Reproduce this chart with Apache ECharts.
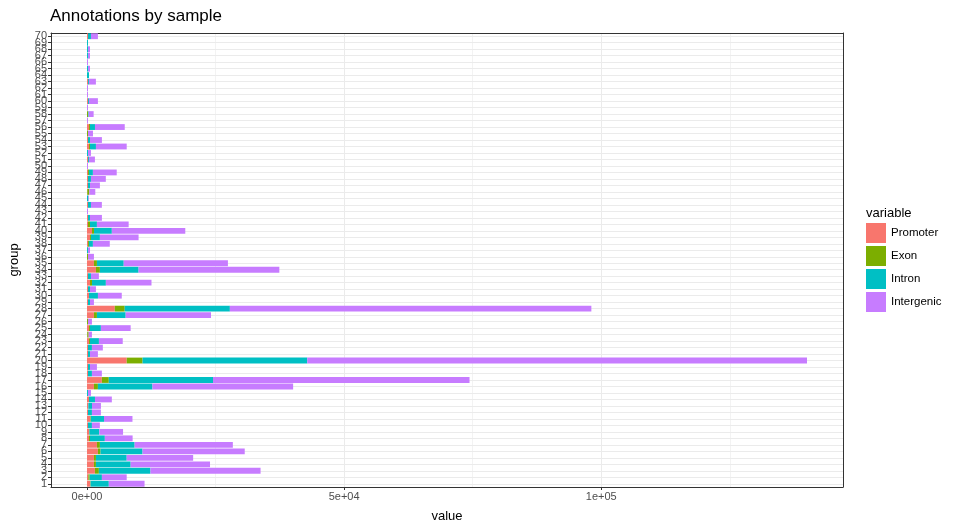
<!DOCTYPE html>
<html>
<head>
<meta charset="utf-8">
<script src="https://cdn.jsdelivr.net/npm/echarts@6/dist/echarts.min.js"></script>
<style>
  html, body { margin: 0; padding: 0; background: #fff; }
  #main { width: 960px; height: 528px; }
</style>
</head>
<body>
<div id="main"></div>
<script>
// groups 1..70, values
var groups = [];
for (var g = 1; g <= 70; g++) groups.push(String(g));

var promoter = [640, 260, 1540, 1350, 1350, 2120, 1930, 390, 390, 190,
  640, 190, 260, 390, 0, 1350, 2890, 190, 190, 7720,
  190, 190, 390, 60, 390, 0, 1350, 5400, 190, 390,
  190, 580, 190, 1740, 1350, 0, 0, 190, 580, 970,
  190, 190, 0, 190, 0, 60, 190, 190, 190, 0,
  190, 0, 390, 190, 0, 390, 0, 0, 0, 190,
  0, 0, 190, 0, 0, 0, 0, 0, 0, 190];
var exon = [60, 260, 770, 390, 390, 510, 580, 190, 60, 0,
  100, 0, 0, 0, 0, 770, 1350, 0, 0, 3090,
  0, 0, 190, 260, 190, 190, 580, 1930, 0, 0,
  0, 390, 0, 770, 580, 190, 0, 190, 190, 390,
  390, 0, 0, 0, 0, 390, 0, 0, 190, 0,
  0, 0, 190, 0, 190, 190, 0, 190, 0, 0,
  0, 0, 0, 0, 0, 0, 0, 0, 0, 0];
var intron = [3540, 2380, 10030, 6750, 5980, 8170, 6750, 2890, 1930, 770,
  2570, 770, 710, 1160, 190, 10610, 20260, 770, 390, 32020,
  390, 770, 1740, 0, 2120, 0, 5590, 20450, 390, 1740,
  390, 2700, 580, 7520, 5210, 0, 190, 770, 1740, 3470,
  1350, 390, 0, 580, 260, 0, 390, 580, 770, 0,
  190, 190, 1160, 390, 0, 970, 0, 130, 0, 190,
  0, 0, 190, 390, 190, 0, 190, 190, 190, 580];
var intergenic = [6950, 4820, 21410, 15430, 12920, 19870, 19100, 5400, 4630, 1540,
  5530, 1740, 1740, 3280, 580, 27350, 49880, 1930, 1350, 97170,
  1540, 2120, 4630, 640, 5790, 770, 16590, 70290, 770, 4630,
  1160, 8870, 1540, 27370, 20260, 1160, 390, 3280, 7520, 14280,
  6170, 2320, 190, 2120, 130, 1160, 1930, 2890, 4630, 190,
  1160, 580, 5980, 2320, 970, 5790, 190, 970, 190, 1740,
  190, 190, 1350, 0, 390, 190, 390, 390, 0, 1350];

var majorTicks = [0, 50000, 100000];
var minorTicks = [25000, 75000, 125000];

function sci(v) {
  if (v === 0) return '0e+00';
  var e = Math.floor(Math.log10(Math.abs(v)));
  var m = Math.round(v / Math.pow(10, e) * 100) / 100;
  return m + 'e' + (e < 0 ? '-' : '+') + String(Math.abs(e)).padStart(2, '0');
}

var chartDom = document.getElementById('main');
var myChart = echarts.init(chartDom);
var option;

var font = 'Liberation Sans';
var gridColor = '#EBEBEB';

function bar(name, data, color) {
  return {
    name: name,
    type: 'bar',
    stack: 'total',
    data: data,
    barCategoryGap: '10%',
    itemStyle: { color: color },
    emphasis: { disabled: true },
    silent: true
  };
}

option = {
  animation: false,
  textStyle: { fontFamily: font },
  title: [
    {
      text: 'Annotations by sample',
      left: 45, top: 3,
      textStyle: { fontSize: 17, fontWeight: 'normal', color: '#000', fontFamily: font }
    },
    {
      text: 'variable',
      left: 861, top: 202,
      textStyle: { fontSize: 13, fontWeight: 'normal', color: '#000', fontFamily: font }
    }
  ],
  legend: {
    orient: 'vertical',
    left: 861, top: 218,
    itemWidth: 20, itemHeight: 20, itemGap: 3,
    icon: 'rect',
    textStyle: { fontSize: 11.5, color: '#000', fontFamily: font },
    data: ['Promoter', 'Exon', 'Intron', 'Intergenic']
  },
  grid: { left: 50, right: 117, top: 33, bottom: 41 },
  xAxis: [
    {
      type: 'value',
      min: -7000, max: 147000,
      name: 'value', nameLocation: 'middle', nameGap: 23,
      nameTextStyle: { fontSize: 13, color: '#000', fontFamily: font },
      axisLine: { show: true, onZero: false, lineStyle: { color: '#333', width: 1 } },
      axisTick: { show: true, length: 3, customValues: majorTicks, lineStyle: { color: '#333' } },
      axisLabel: { customValues: majorTicks, formatter: sci, fontSize: 11, color: '#4D4D4D', margin: 4 },
      splitLine: { show: true, lineStyle: { color: gridColor, width: 1 } }
    },
    {
      type: 'value',
      position: 'top',
      min: -7000, max: 147000,
      axisLine: { show: true, onZero: false, lineStyle: { color: '#333', width: 1 } },
      axisTick: { show: false, customValues: minorTicks },
      axisLabel: { show: false, customValues: minorTicks },
      splitLine: { show: true, lineStyle: { color: gridColor, width: 0.6 } }
    }
  ],
  yAxis: [
    {
      type: 'category',
      data: groups,
      name: 'group', nameLocation: 'middle', nameGap: 30, nameRotate: 90,
      nameTextStyle: { fontSize: 13, color: '#000', fontFamily: font },
      axisLine: { show: true, onZero: false, lineStyle: { color: '#333', width: 1 } },
      axisTick: { show: true, length: 3, alignWithLabel: true, interval: 0, lineStyle: { color: '#333' } },
      axisLabel: { interval: 0, fontSize: 11, color: '#4D4D4D', margin: 4 },
      splitLine: { show: false }
    },
    {
      type: 'value',
      position: 'right',
      min: 0.5, max: 70.5,
      axisLine: { show: true, onZero: false, lineStyle: { color: '#333', width: 1 } },
      axisTick: { show: false, customValues: groups.map(Number) },
      axisLabel: { show: false, customValues: groups.map(Number) },
      splitLine: { show: true, lineStyle: { color: gridColor, width: 1 } }
    }
  ],
  series: [
    bar('Promoter', promoter, '#F8766D'),
    bar('Exon', exon, '#7CAE00'),
    bar('Intron', intron, '#00BFC4'),
    bar('Intergenic', intergenic, '#C77CFF')
  ]
};

option && myChart.setOption(option);
</script>
</body>
</html>
